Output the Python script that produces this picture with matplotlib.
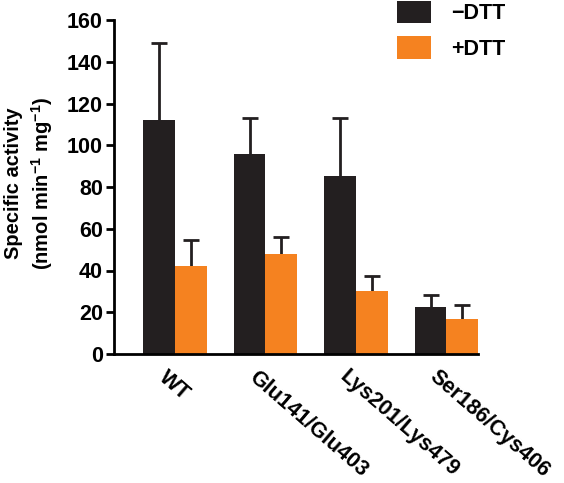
import numpy as np
import matplotlib
matplotlib.use("Agg")
import matplotlib.pyplot as plt
from matplotlib.transforms import ScaledTranslation

plt.rcParams["font.family"] = "Liberation Sans"
plt.rcParams["font.weight"] = "bold"
plt.rcParams["mathtext.fontset"] = "custom"
plt.rcParams["mathtext.rm"] = "Liberation Sans:bold"
plt.rcParams["mathtext.bf"] = "Liberation Sans:bold"

# data
groups = ["WT", "Glu141/Glu403", "Lys201/Lys479", "Ser186/Cys406"]
minus_dtt = [112, 96, 85.5, 22.7]
minus_err = [37, 17, 27.5, 5.5]
plus_dtt = [42.2, 47.8, 30.4, 17]
plus_err = [12.2, 8.2, 7.2, 6.5]

black = "#231f20"
orange = "#f58220"

fig = plt.figure(figsize=(5.64, 4.83), dpi=100)
ax = fig.add_axes([114/564, 1 - 354/483, 364/564, 334/483])

x = np.arange(len(groups))
w = 0.35
ekw = dict(elinewidth=2, capthick=2, ecolor=black, capsize=5.5, zorder=1)
# symmetric bars drawn behind the columns -> only the upper half shows
ax.errorbar(x - w/2, minus_dtt, yerr=minus_err, fmt="none", **ekw)
ax.errorbar(x + w/2, plus_dtt, yerr=plus_err, fmt="none", **ekw)
b1 = ax.bar(x - w/2, minus_dtt, w, color=black, label="\u2212DTT", zorder=2)
b2 = ax.bar(x + w/2, plus_dtt, w, color=orange, label="+DTT", zorder=2)

ax.set_xlim(-0.675, 3.35)
ax.set_ylim(0, 160)
ax.set_yticks(np.arange(0, 161, 20))
ax.spines["top"].set_visible(False)
ax.spines["right"].set_visible(False)
ax.spines["left"].set_linewidth(2)
ax.spines["bottom"].set_linewidth(2)
ax.spines["left"].set_zorder(3)
ax.spines["bottom"].set_zorder(3)
ax.tick_params(axis="y", width=2, length=6, labelsize=15.5, pad=2)
ax.tick_params(axis="x", length=0, labelsize=15.5, pad=9)

ax.set_xticks(x)
ax.set_xticklabels(groups, rotation=-41, ha="left", va="top", rotation_mode="anchor")
off = ScaledTranslation(-5/72, 0, fig.dpi_scale_trans)
for lab in ax.get_xticklabels():
    lab.set_transform(lab.get_transform() + off)

ax.set_ylabel("Specific activity\n(nmol min$^{-1}$ mg$^{-1}$)", fontsize=14.5,
              fontweight="bold", linespacing=1.3)
ax.yaxis.set_label_coords(-0.162, 0.51)

fig.legend(handles=[b1, b2], loc="upper left", bbox_to_anchor=(388/564, 1.0 + 8/483),
           frameon=False, fontsize=15.5, handlelength=1.6, handleheight=1.25,
           handletextpad=0.95, labelspacing=0.55, borderaxespad=0)

fig.savefig("out.png", dpi=100)
